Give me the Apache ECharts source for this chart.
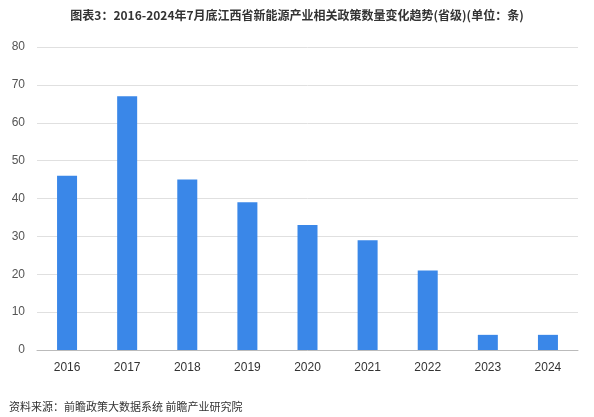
<!DOCTYPE html>
<html><head><meta charset="utf-8">
<script src="https://cdn.jsdelivr.net/npm/echarts@6/dist/echarts.min.js"></script>
<style>body{margin:0}#c{width:594px;height:417px}</style></head>
<body><div id="c"></div>
<script>
const categories=['2016','2017','2018','2019','2020','2021','2022','2023','2024'];
const values=[46,67,45,39,33,29,21,4,4];
const chart=echarts.init(document.getElementById('c'));
chart.setOption({
  animation:false,
  backgroundColor:'#fff',
  title:[{text:'图表3：2016-2024年7月底江西省新能源产业相关政策数量变化趋势(省级)(单位：条)',left:'center',top:4,textStyle:{fontSize:12,fontWeight:'bold',color:'#333',fontFamily:'Noto Sans CJK SC'}},
    {text:'资料来源：前瞻政策大数据系统 前瞻产业研究院',left:4,top:396,textStyle:{fontSize:11,fontWeight:'normal',color:'#333',fontFamily:'Noto Sans CJK SC'}}],
  grid:{left:37,right:16,top:47,bottom:67},
  xAxis:{type:'category',data:categories,axisTick:{show:false},axisLine:{lineStyle:{color:'#bbb'}},axisLabel:{color:'#333',fontSize:12,margin:12}},
  yAxis:{type:'value',min:0,max:80,interval:10,axisLabel:{color:'#555',fontSize:12,margin:12},splitLine:{lineStyle:{color:'#e0e0e0'}}},
  series:[{type:'bar',data:values,barWidth:20,itemStyle:{color:'#3a87e8'}}]
});
</script></body></html>
